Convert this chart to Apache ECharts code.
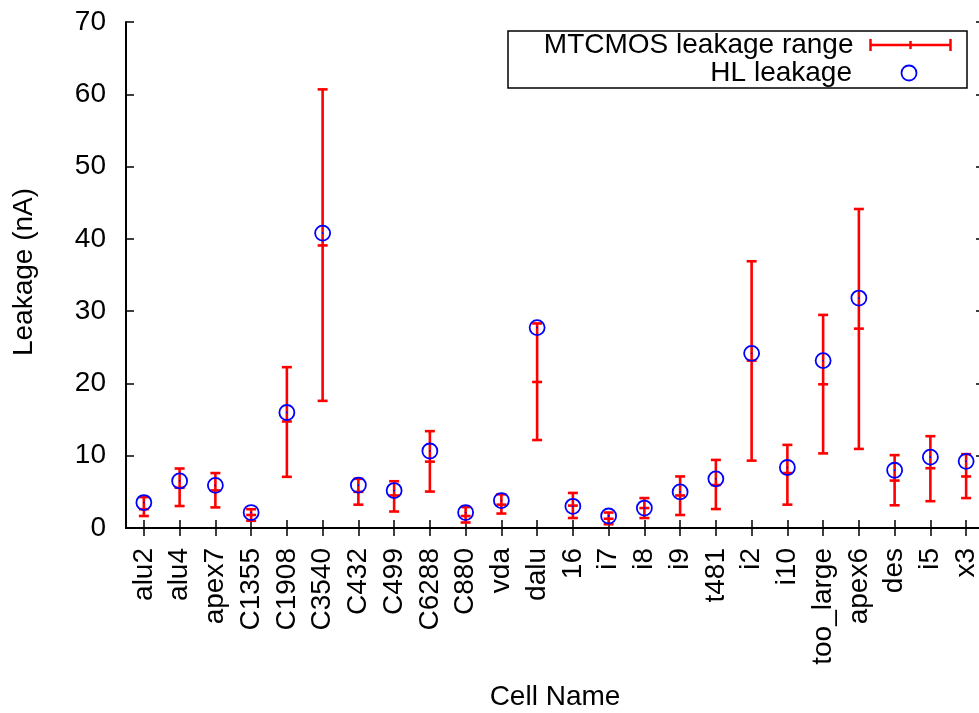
<!DOCTYPE html>
<html>
<head>
<meta charset="utf-8">
<script src="https://cdn.jsdelivr.net/npm/echarts@6/dist/echarts.min.js"></script>
<style>html,body{margin:0;padding:0;background:#fff;}#c{width:979px;height:713px;}</style>
</head>
<body>
<div id="c"></div>
<script>
var categories = ['alu2','alu4','apex7','C1355','C1908','C3540','C432','C499','C6288','C880','vda','dalu','16','i7','i8','i9','t481','i2','i10','too_large','apex6','des','i5','x3'];
var rangeLow  = [1.66,3.04,2.85,1.0,7.08,17.59,3.23,2.28,5.04,0.76,2.0,12.17,1.38,0.52,1.38,1.8,2.62,9.32,3.23,10.32,10.94,3.14,3.71,4.14];
var rangeMid  = [2.6,5.56,5.2,1.8,14.74,39.09,5.0,4.5,9.18,1.66,3.23,20.2,3.1,1.28,2.76,4.5,5.94,23.16,7.6,19.88,27.58,6.56,8.27,7.13];
var rangeHigh = [4.28,8.23,7.6,2.6,22.25,60.68,6.8,6.47,13.4,2.9,4.66,28.3,4.85,2.14,4.14,7.13,9.42,36.9,11.5,29.48,44.13,10.08,12.7,10.22];
var hlLeakage = [3.52,6.51,5.9,2.14,15.98,40.8,5.94,5.18,10.65,2.14,3.8,27.72,3.0,1.66,2.76,4.99,6.8,24.16,8.37,23.16,31.81,7.99,9.8,9.22];
var yTicks = {min: 0, max: 70, interval: 10};

var FONT = 'Liberation Sans';
var FS = 28;

var errData = categories.map(function (c, i) { return [i, rangeLow[i], rangeMid[i], rangeHigh[i]]; });
var hlData = categories.map(function (c, i) { return [i, hlLeakage[i]]; });

var chart = echarts.init(document.getElementById('c'), null, {renderer: 'canvas'});
var red = '#ff0000', blue = '#0000ff';

chart.setOption({
  animation: false,
  backgroundColor: '#fff',
  textStyle: {fontFamily: FONT},
  grid: {left: 126, top: 22, width: 858, height: 506, containLabel: false, outerBoundsMode: 'none'},
  xAxis: [{
    type: 'category', data: categories, position: 'bottom', boundaryGap: true,
    axisLine: {show: true, lineStyle: {color: '#000', width: 2}},
    axisTick: {show: true, inside: true, length: 8, alignWithLabel: true, interval: 0, lineStyle: {color: '#000', width: 1.5}},
    axisLabel: {interval: 0, rotate: 90, margin: 20, fontSize: FS, color: '#000', fontFamily: FONT},
    splitLine: {show: false},
    name: 'Cell Name', nameLocation: 'middle', nameGap: 155,
    nameTextStyle: {fontSize: FS, color: '#000', fontFamily: FONT}
  }, {
    type: 'category', data: categories, position: 'top', boundaryGap: true,
    axisLine: {show: true, lineStyle: {color: '#000', width: 2}},
    axisTick: {show: true, inside: true, length: 8, alignWithLabel: true, interval: 0, lineStyle: {color: '#000', width: 1.5}},
    axisLabel: {show: false}, splitLine: {show: false}
  }],
  yAxis: [{
    type: 'value', min: yTicks.min, max: yTicks.max, interval: yTicks.interval, position: 'left',
    axisLine: {show: true, lineStyle: {color: '#000', width: 2}},
    axisTick: {show: true, inside: true, length: 8, lineStyle: {color: '#000', width: 1.5}},
    axisLabel: {margin: 20, fontSize: FS, color: '#000', fontFamily: FONT},
    splitLine: {show: false},
    name: 'Leakage (nA)', nameLocation: 'middle', nameGap: 88, nameRotate: 90,
    nameTextStyle: {fontSize: FS, color: '#000', fontFamily: FONT, padding: [0, 0, 0, 6]}
  }, {
    type: 'value', min: yTicks.min, max: yTicks.max, interval: yTicks.interval, position: 'right',
    axisLine: {show: true, lineStyle: {color: '#000', width: 2}},
    axisTick: {show: true, inside: true, length: 8, lineStyle: {color: '#000', width: 1.5}},
    axisLabel: {show: false}, splitLine: {show: false}
  }],
  legend: [{
    selectedMode: false, orient: 'vertical', align: 'right', right: 26, top: 31, padding: 0,
    itemWidth: 80, itemHeight: 12,
    textStyle: {fontSize: FS, color: '#000', fontFamily: FONT, padding: [0, 12, 0, 0]},
    data: [{name: 'MTCMOS leakage range',
            icon: 'path://M0,0L0,12M0,6L80,6M80,0L80,12M40,2L40,10',
            itemStyle: {color: 'none', borderColor: red, borderWidth: 2.5}}]
  }, {
    selectedMode: false, orient: 'vertical', align: 'right', right: 60, top: 59, padding: 0,
    itemWidth: 80, itemHeight: 15,
    textStyle: {fontSize: FS, color: '#000', fontFamily: FONT, padding: [0, 12, 0, 0]},
    data: [{name: 'HL leakage',
            icon: 'path://M0,7.5A7.5,7.5 0 1,0 15,7.5A7.5,7.5 0 1,0 0,7.5Z',
            itemStyle: {color: 'none', borderColor: blue, borderWidth: 1.8}}]
  }],
  graphic: [{
    type: 'rect', z: 100, silent: true,
    shape: {x: 508, y: 31, width: 459, height: 57},
    style: {fill: 'none', stroke: '#000', lineWidth: 1.5}
  }],
  series: [{
    name: 'MTCMOS leakage range', type: 'custom', data: errData,
    encode: {x: 0, y: [1, 2, 3]},
    itemStyle: {color: red},
    renderItem: function (params, api) {
      var i = api.value(0);
      var lo = api.coord([i, api.value(1)]);
      var md = api.coord([i, api.value(2)]);
      var hi = api.coord([i, api.value(3)]);
      var hw = 5, st = {stroke: red, lineWidth: 2.6, fill: null};
      return {type: 'group', children: [
        {type: 'line', shape: {x1: lo[0], y1: lo[1], x2: hi[0], y2: hi[1]}, style: st},
        {type: 'line', shape: {x1: lo[0] - hw, y1: lo[1], x2: lo[0] + hw, y2: lo[1]}, style: st},
        {type: 'line', shape: {x1: hi[0] - hw, y1: hi[1], x2: hi[0] + hw, y2: hi[1]}, style: st},
        {type: 'line', shape: {x1: md[0] - hw, y1: md[1], x2: md[0] + hw, y2: md[1]}, style: st}
      ]};
    }
  }, {
    name: 'HL leakage', type: 'custom', data: hlData,
    encode: {x: 0, y: 1},
    itemStyle: {color: blue},
    renderItem: function (params, api) {
      var p = api.coord([api.value(0), api.value(1)]);
      return {type: 'group', children: [
        {type: 'circle', shape: {cx: p[0], cy: p[1], r: 7.5}, style: {fill: null, stroke: blue, lineWidth: 1.8}},
        {type: 'circle', shape: {cx: p[0], cy: p[1], r: 0.9}, style: {fill: blue}}
      ]};
    }
  }]
});
</script>
</body>
</html>
